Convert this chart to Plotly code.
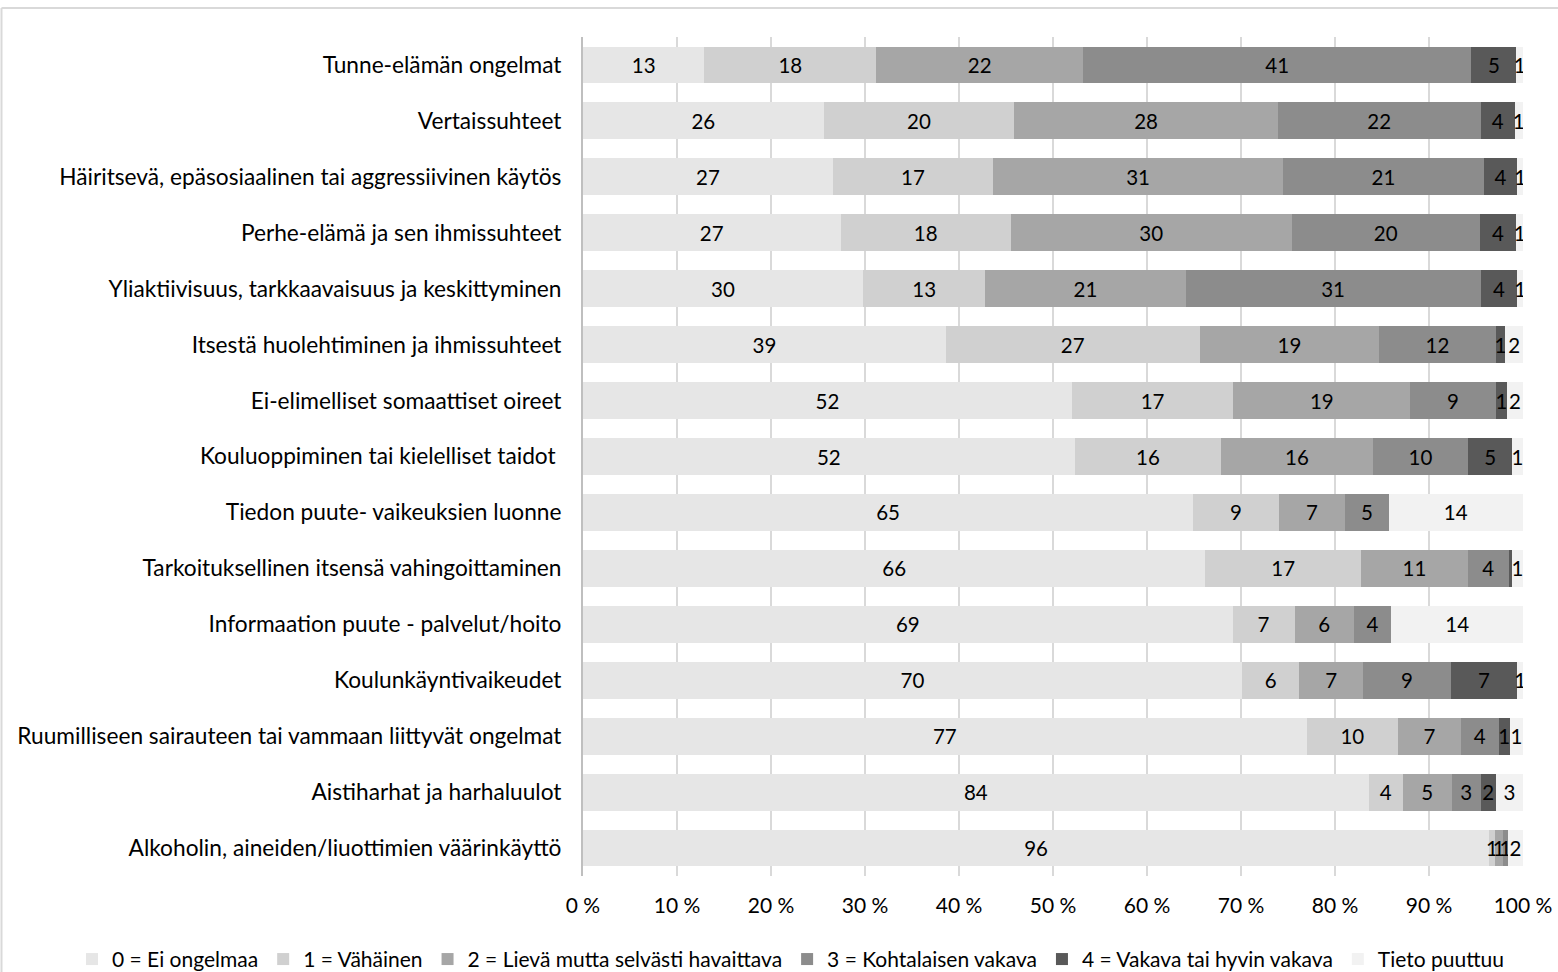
import plotly.graph_objects as go

categories = [
    "Tunne-elämän ongelmat",
    "Vertaissuhteet",
    "Häiritsevä, epäsosiaalinen tai aggressiivinen käytös",
    "Perhe-elämä ja sen ihmissuhteet",
    "Yliaktiivisuus, tarkkaavaisuus ja keskittyminen",
    "Itsestä huolehtiminen ja ihmissuhteet",
    "Ei-elimelliset somaattiset oireet",
    "Kouluoppiminen tai kielelliset taidot\u00a0",
    "Tiedon puute- vaikeuksien luonne",
    "Tarkoituksellinen itsensä vahingoittaminen",
    "Informaation puute - palvelut/hoito",
    "Koulunkäyntivaikeudet",
    "Ruumilliseen sairauteen tai vammaan liittyvät ongelmat",
    "Aistiharhat ja harhaluulot",
    "Alkoholin, aineiden/liuottimien väärinkäyttö",
]

series_names = [
    "0 = Ei ongelmaa",
    "1 = Vähäinen",
    "2 = Lievä mutta selvästi havaittava",
    "3 = Kohtalaisen vakava",
    "4 = Vakava tai hyvin vakava",
    "Tieto puuttuu",
]

s0 = [12.9, 25.6, 26.6, 27.4, 29.8, 38.6, 52.0, 52.3, 64.9, 66.2, 69.1, 70.1, 77.0, 83.6, 96.4]
s1 = [18.3, 20.3, 17.0, 18.1, 13.0, 27.0, 17.2, 15.6, 9.1, 16.6, 6.6, 6.1, 9.7, 3.6, 0.6]
s2 = [22.0, 28.0, 30.9, 29.9, 21.3, 19.1, 18.8, 16.1, 7.1, 11.3, 6.3, 6.8, 6.7, 5.2, 0.85]
s3 = [41.3, 21.6, 21.3, 20.0, 31.4, 12.4, 9.1, 10.2, 4.6, 4.4, 4.0, 9.3, 4.0, 3.1, 0.55]
s4 = [4.8, 3.6, 3.6, 3.9, 3.9, 1.0, 1.2, 4.6, 0.0, 0.3, 0.0, 7.1, 1.2, 1.6, 0.0]
s5 = [0.7, 0.9, 0.6, 0.7, 0.6, 1.9, 1.7, 1.2, 14.3, 1.2, 14.0, 0.6, 1.4, 2.9, 1.6]

tick_vals = [0, 10, 20, 30, 40, 50, 60, 70, 80, 90, 100]
tick_text = ["0 %", "10 %", "20 %", "30 %", "40 %", "50 %", "60 %", "70 %", "80 %", "90 %", "100 %"]

colors = ["#e6e6e6", "#d0d0d0", "#a6a6a6", "#8c8c8c", "#595959", "#f2f2f2"]

FONT = "Lato"
FS_CAT = 22.7
FS_NUM = 20.5
FS_TICK = 21
FS_LEG = 21

fig = go.Figure()
for name, vals, col in zip(series_names, [s0, s1, s2, s3, s4, s5], colors):
    labels = [f"{v:.0f}" if round(v) > 0 else "" for v in vals]
    fig.add_trace(go.Bar(
        y=categories, x=vals, name=name, orientation="h",
        marker=dict(color=col, line=dict(width=0)),
        text=labels, textposition="inside", insidetextanchor="middle",
        textangle=0, constraintext="none",
        insidetextfont=dict(family=FONT, size=FS_NUM, color="#000000"),
        hoverinfo="x+y+name",
    ))

L, R, T, B = 583, 35, 36.5, 95.5
W, H = 1558, 972
pw, ph = W - L - R, H - T - B

def px_x(p):
    return (p - L) / pw

def px_y(p):
    return (H - B - p) / ph

fig.update_layout(
    barmode="stack",
    bargap=0.34,
    width=W, height=H,
    margin=dict(l=L, r=R, t=T, b=B, pad=0, autoexpand=False),
    paper_bgcolor="white", plot_bgcolor="white",
    font=dict(family=FONT, size=FS_CAT, color="#000000"),
    uniformtext=dict(minsize=FS_NUM, mode="show"),
    showlegend=True,
    legend=dict(
        orientation="h", xref="paper", yref="paper",
        x=px_x(72), xanchor="left", y=px_y(960), yanchor="middle",
        font=dict(family=FONT, size=FS_LEG, color="#000000"),
        traceorder="normal", itemwidth=30, itemsizing="constant",
        bgcolor="rgba(0,0,0,0)",
    ),
    xaxis=dict(
        range=[0, 100], tickvals=tick_vals, ticktext=tick_text,
        showgrid=True, gridcolor="#d9d9d9", gridwidth=2,
        zeroline=False, showline=False, ticks="",
        ticklabelstandoff=15, fixedrange=True,
        tickfont=dict(family=FONT, size=FS_TICK, color="#000000"),
    ),
    yaxis=dict(
        autorange="reversed", showgrid=False, zeroline=False,
        showline=True, linecolor="#bfbfbf", linewidth=2,
        ticks="", ticklabelstandoff=15,
        tickfont=dict(family=FONT, size=FS_CAT, color="#000000"),
    ),
    shapes=[
        dict(type="line", xref="paper", yref="paper",
             x0=px_x(1.5), x1=px_x(W + 10), y0=px_y(7.5), y1=px_y(7.5),
             line=dict(color="#d9d9d9", width=2), layer="below"),
        dict(type="line", xref="paper", yref="paper",
             x0=px_x(1.5), x1=px_x(1.5), y0=px_y(7.5), y1=px_y(H + 10),
             line=dict(color="#d9d9d9", width=2), layer="below"),
    ],
)

fig.write_html("out.html")
